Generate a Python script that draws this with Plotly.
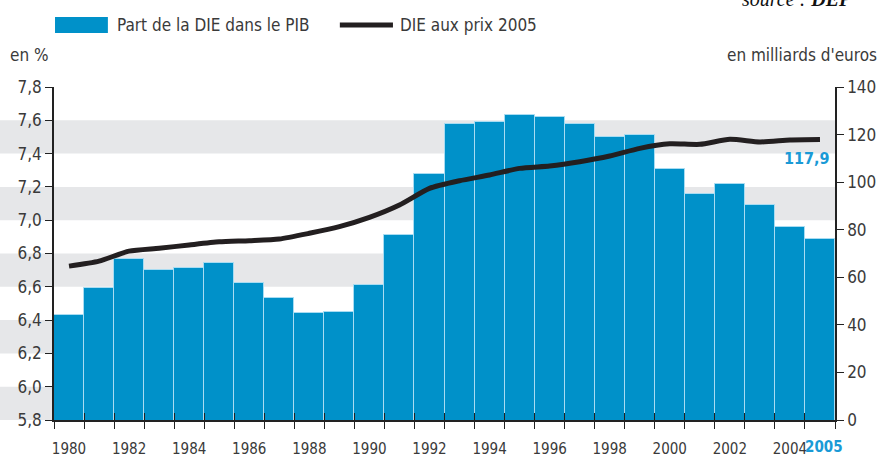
import plotly.graph_objects as go

# data
years = list(range(1980, 2006))
part_pib = [6.43, 6.59, 6.77, 6.70, 6.71, 6.74, 6.62, 6.53, 6.44, 6.45,
            6.61, 6.91, 7.28, 7.58, 7.59, 7.63, 7.62, 7.58, 7.50, 7.51,
            7.31, 7.16, 7.22, 7.09, 6.96, 6.89]
die_prix_2005 = [64.7, 66.8, 71.0, 72.2, 73.6, 74.9, 75.4, 76.1, 78.5, 81.3,
                 85.2, 90.4, 97.4, 100.6, 103.0, 105.8, 106.8, 108.6, 111.0, 114.2,
                 116.1, 115.9, 118.0, 116.9, 117.7, 117.9]
label_years = list(range(1980, 2005, 2))
left_ticks = [5.8, 6.0, 6.2, 6.4, 6.6, 6.8, 7.0, 7.2, 7.4, 7.6, 7.8]
bands = [(5.8, 6.0), (6.2, 6.4), (6.6, 6.8), (7.0, 7.2), (7.4, 7.6)]

BLUE = "#0091c9"
FONT = "DejaVu Sans Condensed, Liberation Sans Narrow, sans-serif"
GREY_TXT = "#3a3a3a"
AXIS = "#222222"

boundaries = [y - 0.5 for y in years] + [years[-1] + 0.5]

fig = go.Figure()

fig.add_trace(go.Bar(
    x=years, y=part_pib, marker=dict(color=BLUE, line=dict(color="#a8dcf2", width=1)),
    name="Part de la DIE dans le PIB", showlegend=False,
))
fig.add_trace(go.Scatter(
    x=years, y=die_prix_2005, yaxis="y2", mode="lines",
    line=dict(color="#231f20", width=5, shape="spline", smoothing=0.6),
    name="DIE aux prix 2005", showlegend=False,
))

shapes = []
for lo, hi in bands:
    shapes.append(dict(type="rect", xref="paper", yref="y", x0=-0.07, x1=1,
                       y0=lo, y1=hi, fillcolor="#e6e7e9", line_width=0, layer="below"))

# legend drawn by hand
shapes.append(dict(type="rect", xref="paper", yref="paper", x0=0.0013, x1=0.069,
                   y0=1.162, y1=1.210, fillcolor=BLUE, line_width=0))
shapes.append(dict(type="line", xref="paper", yref="paper", x0=0.366, x1=0.434,
                   y0=1.186, y1=1.186, line=dict(color="#231f20", width=5)))

annotations = [
    dict(text="Part de la DIE dans le PIB", x=0.078, y=1.186, xref="paper", yref="paper",
         xanchor="left", yanchor="middle", showarrow=False, font=dict(size=17, color=GREY_TXT)),
    dict(text="DIE aux prix 2005", x=0.440, y=1.186, xref="paper", yref="paper",
         xanchor="left", yanchor="middle", showarrow=False, font=dict(size=17, color=GREY_TXT)),
    dict(text="en %", x=-0.059, y=1.095, xref="paper", yref="paper",
         xanchor="left", yanchor="middle", showarrow=False, font=dict(size=17, color=GREY_TXT)),
    dict(text="en milliards d'euros", x=1.056, y=1.095, xref="paper", yref="paper",
         xanchor="right", yanchor="middle", showarrow=False, font=dict(size=17, color=GREY_TXT)),
    dict(text="117,9", x=2005.4, y=117.9, xref="x", yref="y2", yshift=-19,
         xanchor="right", yanchor="middle", showarrow=False,
         font=dict(size=16, color="#1a9ad6", family=FONT, weight="bold")),
    dict(text="<b>2005</b>", x=2005.15, y=0, xref="x", yref="paper", yshift=-27,
         xanchor="center", yanchor="middle", showarrow=False,
         font=dict(size=15, color="#1a9ad6")),
    dict(text="<i>source : <b>DEP</b></i>", x=0.878, y=1.226, xref="paper", yref="paper",
         xanchor="left", yanchor="bottom", showarrow=False,
         font=dict(size=20, color="#111", family="Liberation Serif, serif")),
]

fig.update_layout(
    width=885, height=457,
    margin=dict(l=54, r=50, t=87, b=37),
    paper_bgcolor="white", plot_bgcolor="rgba(0,0,0,0)",
    font=dict(family=FONT, size=17, color=GREY_TXT),
    separators=", ",
    bargap=0,
    showlegend=False,
    shapes=shapes,
    annotations=annotations,
    xaxis=dict(range=[1979.5, 2005.5], tickvals=boundaries, ticktext=[""] * len(boundaries),
               ticks="outside", ticklen=7, tickcolor=AXIS, showline=True, linecolor=AXIS,
               linewidth=1.5, showgrid=False, zeroline=False, automargin=False),
    xaxis2=dict(overlaying="x", matches="x", anchor="y", side="bottom",
                tickvals=boundaries, ticktext=[""] * len(boundaries),
                ticks="inside", ticklen=7, tickcolor=AXIS, showline=False,
                showgrid=False, zeroline=False, automargin=False),
    xaxis3=dict(overlaying="x", matches="x", anchor="y", side="bottom",
                tickvals=label_years, ticktext=[str(y) for y in label_years],
                tickfont=dict(size=15), ticks="", ticklabelstandoff=18,
                showline=False, showgrid=False, zeroline=False, automargin=False),
    yaxis=dict(range=[5.8, 7.8], tickvals=left_ticks, tickformat=".1f",
               ticks="outside", ticklen=7, tickcolor=AXIS, showline=True, linecolor=AXIS,
               linewidth=1.5, showgrid=False, zeroline=False, automargin=False),
    yaxis2=dict(range=[0, 140], dtick=20, overlaying="y", side="right",
                ticks="outside", ticklen=7, tickcolor=AXIS, showline=True, linecolor=AXIS,
                linewidth=1.5, showgrid=False, zeroline=False, automargin=False),
)

# invisible traces so the overlay axes get drawn
fig.add_trace(go.Scatter(x=[1980], y=[6], xaxis="x2", mode="markers",
                         marker=dict(opacity=0), hoverinfo="skip"))
fig.add_trace(go.Scatter(x=[1980], y=[6], xaxis="x3", mode="markers",
                         marker=dict(opacity=0), hoverinfo="skip"))

# drop the default page margin so the figure sits at the window's corner
fig.write_html("out.html", config={"displayModeBar": False},
               post_script="document.body.style.margin='0';")
